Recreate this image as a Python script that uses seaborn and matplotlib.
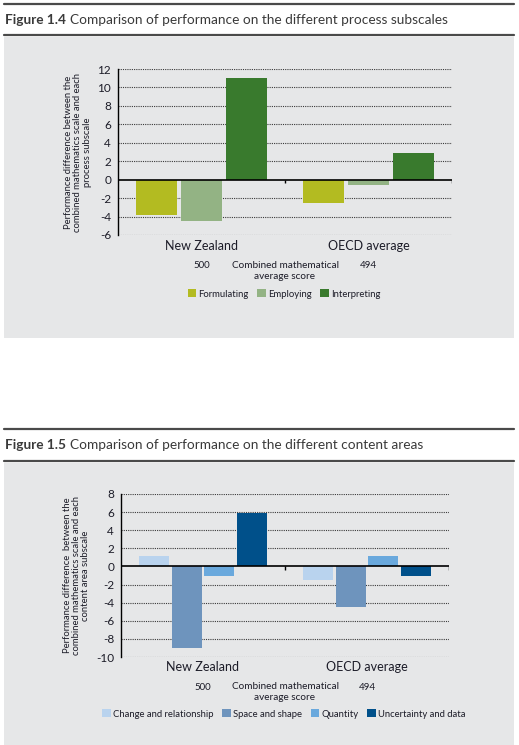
import matplotlib
matplotlib.use("Agg")
import matplotlib.pyplot as plt
import matplotlib.transforms as mtransforms
from matplotlib.patches import Rectangle, Patch
from matplotlib.lines import Line2D
import pandas as pd
import seaborn as sns

sns.set_theme(style="white")
plt.rcParams['font.family'] = ['Lato', 'DejaVu Sans']

# ---- data ----
countries = ["New Zealand", "OECD average"]
scores = ["500", "494"]

process_names = ["Formulating", "Employing", "Interpreting"]
process_values = {
    "Formulating": [-3.8, -2.5],
    "Employing": [-4.5, -0.6],
    "Interpreting": [11.0, 2.9],
}
process_colors = ["#b3bb21", "#93b384", "#397a2d"]
process_ticks = [12, 10, 8, 6, 4, 2, 0, -2, -4, -6]

content_names = ["Change and relationship", "Space and shape", "Quantity", "Uncertainty and data"]
content_values = {
    "Change and relationship": [1.1, -1.5],
    "Space and shape": [-9.0, -4.5],
    "Quantity": [-1.1, 1.1],
    "Uncertainty and data": [5.9, -1.0],
}
content_colors = ["#b9d3ee", "#6e94bd", "#6aa9dd", "#00508a"]
content_ticks = [8, 6, 4, 2, 0, -2, -4, -6, -8, -10]

W, H = 519, 745
PANEL = "#e6e7e8"
TXT = "#1c1c28"

fig = plt.figure(figsize=(W / 100, H / 100), dpi=100)


def fx(x):
    return x / W


def fy(y):
    return 1 - y / H


def long_df(names, values):
    rows = []
    for n in names:
        for c, v in zip(countries, values[n]):
            rows.append({"country": c, "series": n, "value": v})
    return pd.DataFrame(rows)


def header(y_rule1, y_title, y_rule2, number, rest):
    for y in (y_rule1, y_rule2):
        fig.add_artist(Line2D([fx(4), fx(514)], [fy(y), fy(y)], color="#4a4a4a", lw=1.6))
    t = fig.text(fx(5), fy(y_title), number, fontsize=9.8, fontweight="bold",
                 color="#3a3a3a", va="center", ha="left")
    fig.canvas.draw()
    bb = t.get_window_extent()
    fig.text(bb.x1 / W + fx(4), fy(y_title), rest, fontsize=9.8, color="#3a3a3a",
             va="center", ha="left")


def panel(names, values, colors, ticks, ylabel, box, panel_box, cat_y, score_y, leg_y):
    x0, y0, x1, y1 = panel_box
    fig.add_artist(Rectangle((fx(x0), fy(y1)), fx(x1 - x0), (y1 - y0) / H,
                             transform=fig.transFigure, facecolor=PANEL,
                             edgecolor="none", zorder=-5))
    l, t, r, b = box
    ax = fig.add_axes([fx(l), fy(b), fx(r - l), (b - t) / H])
    ax.set_facecolor("none")
    df = long_df(names, values)
    sns.barplot(data=df, x="country", y="value", hue="series", hue_order=names,
                order=countries, palette=colors, saturation=1, width=0.8, gap=0.08,
                legend=False, ax=ax, zorder=3, edgecolor="none", linewidth=0)
    ax.set_xlim(-0.5, 1.5)
    ax.set_ylim(min(ticks), max(ticks))
    ax.set_yticks(ticks)
    ax.set_yticklabels([str(v) for v in ticks], fontsize=8.5, color=TXT)
    ax.tick_params(axis="y", length=0, pad=5)
    for v in ticks:
        if v != 0:
            ax.axhline(v, color="#3a3a3a", lw=0.8, ls=(0, (1, 1)), zorder=1)
    ax.axhline(0, color="black", lw=1.2, zorder=4)
    for s in ("top", "right", "bottom"):
        ax.spines[s].set_visible(False)
    ax.spines["left"].set_color("black")
    ax.spines["left"].set_linewidth(1.0)
    ax.set_xticks([])
    ax.set_xlabel("")
    ax.set_ylabel(ylabel, fontsize=6.8, color=TXT, linespacing=1.05, labelpad=4)
    span = max(ticks) - min(ticks)
    ax.vlines([0.5, 1.5], -span * 0.02, 0, color="black", lw=1.0, zorder=4)
    trans = mtransforms.blended_transform_factory(ax.transData, fig.transFigure)
    for i, (c, s) in enumerate(zip(countries, scores)):
        ax.text(i, fy(cat_y), c, transform=trans, ha="center", va="center",
                fontsize=9, color=TXT)
        ax.text(i, fy(score_y), s, transform=trans, ha="center", va="center",
                fontsize=7, color=TXT)
    ax.text(0.5, fy(score_y + 5), "Combined mathematical\naverage score", transform=trans,
            ha="center", va="center", fontsize=7.2, color=TXT, linespacing=1.15)
    handles = [Patch(facecolor=c, edgecolor="none", label=n) for n, c in zip(names, colors)]
    fig.legend(handles=handles, loc="center", bbox_to_anchor=(fx(284), fy(leg_y)),
               ncol=len(names), frameon=False, fontsize=6.8, handlelength=0.9,
               handleheight=0.9, handletextpad=0.25, columnspacing=0.9,
               labelcolor=TXT)
    return ax


header(4, 20, 35, "Figure 1.4", "Comparison of performance on the different process subscales")
panel(process_names, process_values, process_colors, process_ticks,
      "Performance difference between the\ncombined mathematics scale and each\nprocess subscale",
      (118, 69, 452, 235), (4, 37, 514, 338), 246, 266, 294)

header(429, 445, 461, "Figure 1.5", "Comparison of performance on the different content areas")
panel(content_names, content_values, content_colors, content_ticks,
      "Performance difference  between the\ncombined mathematics scale and each\ncontent area subscale",
      (121, 494, 449, 657), (4, 463, 514, 745), 667, 687, 714)

fig.savefig("out.png", dpi=100, facecolor="white")
